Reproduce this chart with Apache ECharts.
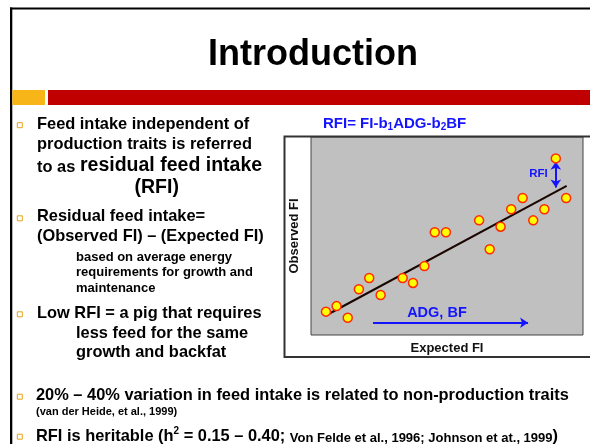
<!DOCTYPE html>
<html><head><meta charset="utf-8">
<script src="https://cdn.jsdelivr.net/npm/echarts@6/dist/echarts.min.js"></script>
<style>html,body{margin:0;padding:0;background:#fff}#c{width:590px;height:444px}</style>
</head><body><div id="c"></div>
<script>
// ---- data (arbitrary 0-100 units) ----
const expectedFI = [5.5, 9.4, 13.5, 17.6, 21.4, 25.6, 33.7, 37.5, 41.7, 45.5, 49.6, 61.8, 65.7, 69.7, 73.6, 77.8, 81.7, 85.8, 90.0, 93.8];
const observedFI = [11.8, 14.6, 8.7, 23.1, 28.8, 20.2, 28.8, 26.3, 34.8, 51.9, 51.9, 57.9, 43.3, 54.7, 63.5, 69.2, 57.9, 63.5, 89.2, 69.2];
const fitLineX = [5.8, 94.0];
const fitLineY = [10.1, 75.3];
const rfiArrowX = [90.0, 90.0];
const rfiArrowY = [87.5, 74.5];
const adgArrowX = [22.8, 79.8];
const adgArrowY = [6.2, 6.2];
const rfiLabelPos = [83.6, 81.3];
const adgLabelPos = [46.3, 11.1];
const axisNames = ['Expected FI', 'Observed FI'];

const FONT = '"Liberation Sans", Arial, Helvetica, sans-serif';
const BLUE = '#1414ff';

function txt(x, y, text, size, align, color) {
  return { type: 'text', x: x, y: y, z: 10,
    style: { text: text, fontSize: size, fontWeight: 'bold', fontFamily: FONT,
      fill: color || '#000', align: align || 'left', verticalAlign: 'middle' } };
}
function bullet(cy) {
  return { type: 'rect', z: 10, shape: { x: 17.3, y: cy - 2.5, width: 5, height: 5 },
    style: { fill: '#fff', stroke: '#e8a317', lineWidth: 1 } };
}

const graphics = [
  { type: 'rect', shape: { x: 10, y: 7.5, width: 580, height: 2 }, style: { fill: '#000' } },
  { type: 'rect', shape: { x: 10, y: 7.5, width: 2.3, height: 437 }, style: { fill: '#000' } },
  { type: 'rect', shape: { x: 12.3, y: 90, width: 32.7, height: 15 }, style: { fill: '#f7b518' } },
  { type: 'rect', shape: { x: 48, y: 90, width: 542, height: 15 }, style: { fill: '#c00000' } },
  { type: 'rect', shape: { x: 284.5, y: 136.5, width: 312, height: 220.5 }, style: { fill: 'none', stroke: '#333', lineWidth: 2 } },
  txt(313, 55.4, 'Introduction', 36, 'center'),
  bullet(125.2), bullet(218.3), bullet(314.3), bullet(396.7), bullet(436.7),
  txt(37, 124.3, 'Feed intake independent of', 16.4),
  txt(37, 144.3, 'production traits is referred', 16.4),
  txt(37, 167, 'to as', 16.4),
  txt(80, 165.9, 'residual feed intake', 19.5),
  txt(156.7, 187.2, '(RFI)', 19.5, 'center'),
  txt(37, 216.6, 'Residual feed intake=', 16.4),
  txt(37, 236, '(Observed FI) \u2013 (Expected FI)', 16.4),
  txt(76, 257.2, 'based on average energy', 13),
  txt(76, 272.8, 'requirements for growth and', 13),
  txt(76, 288.8, 'maintenance', 13),
  txt(37, 313.6, 'Low RFI = a pig that requires', 16.4),
  txt(76, 333.6, 'less feed for the same', 16.4),
  txt(76, 352.3, 'growth and backfat', 16.4),
  txt(36, 395, '20% \u2013 40% variation in feed intake is related to non-production traits', 16.4),
  txt(36, 412.1, '(van der Heide, et al., 1999)', 11),
  { type: 'text', x: 36, y: 435.3, z: 10,
    style: { text: '{a|RFI is heritable (h}{s|2}{a| = 0.15 \u2013 0.40; }{b|Von Felde et al., 1996; Johnson et at., 1999}{a|)}',
      fill: '#000', align: 'left', verticalAlign: 'middle',
      rich: {
        a: { fontSize: 16.4, fontWeight: 'bold', fontFamily: FONT, lineHeight: 19, verticalAlign: 'bottom', fill: '#000' },
        b: { fontSize: 13, fontWeight: 'bold', fontFamily: FONT, lineHeight: 15, verticalAlign: 'bottom', fill: '#000' },
        s: { fontSize: 10, fontWeight: 'bold', fontFamily: FONT, lineHeight: 12, verticalAlign: 'top', fill: '#000' }
      } } },
  { type: 'text', x: 323, y: 124, z: 10,
    style: { text: '{m|RFI= FI-b}{s|1}{m|ADG-b}{s|2}{m|BF}',
      fill: BLUE, align: 'left', verticalAlign: 'middle',
      rich: {
        m: { fontSize: 15, fontWeight: 'bold', fontFamily: FONT, lineHeight: 16, verticalAlign: 'top', fill: BLUE },
        s: { fontSize: 10, fontWeight: 'bold', fontFamily: FONT, lineHeight: 6, verticalAlign: 'bottom', fill: BLUE }
      } } }
];

const chart = echarts.init(document.getElementById('c'), null, { renderer: 'canvas' });
const nameStyle = { fontSize: 13, fontWeight: 'bold', fontFamily: FONT, color: '#111' };
chart.setOption({
  animation: false,
  backgroundColor: '#fff',
  graphic: graphics,
  grid: { left: 311, top: 137, width: 272, height: 198, show: true, backgroundColor: '#c0c0c0', borderColor: '#444', borderWidth: 1 },
  xAxis: { type: 'value', min: 0, max: 100, name: axisNames[0], nameLocation: 'middle', nameGap: 7, nameTextStyle: nameStyle,
    axisLine: { show: false }, axisTick: { show: false }, axisLabel: { show: false }, splitLine: { show: false } },
  yAxis: { type: 'value', min: 0, max: 100, name: axisNames[1], nameLocation: 'middle', nameGap: 10, nameTextStyle: nameStyle,
    axisLine: { show: false }, axisTick: { show: false }, axisLabel: { show: false }, splitLine: { show: false } },
  series: [
    { type: 'line', name: 'fit', data: fitLineX.map((x, i) => [x, fitLineY[i]]), symbol: 'none', z: 2,
      lineStyle: { color: '#1a0500', width: 2 } },
    { type: 'scatter', name: 'pigs', data: expectedFI.map((x, i) => [x, observedFI[i]]), symbol: 'circle', symbolSize: 9, z: 4,
      itemStyle: { color: '#ffff00', borderColor: '#ff2a00', borderWidth: 1.5, opacity: 1 },
      markLine: { silent: true, animation: false, z: 3,
        lineStyle: { color: BLUE, width: 2, type: 'solid' }, label: { show: false },
        symbolSize: [8, 8],
        data: [
          [ { coord: [rfiArrowX[0], rfiArrowY[0]], symbol: 'arrow' }, { coord: [rfiArrowX[1], rfiArrowY[1]], symbol: 'arrow' } ],
          [ { coord: [adgArrowX[0], adgArrowY[0]], symbol: 'none' }, { coord: [adgArrowX[1], adgArrowY[1]], symbol: 'arrow' } ]
        ] } }
  ]
});

// annotation labels placed through the chart's own coordinate conversion
const pRfi = chart.convertToPixel({ gridIndex: 0 }, rfiLabelPos);
const pAdg = chart.convertToPixel({ gridIndex: 0 }, adgLabelPos);
chart.setOption({
  graphic: graphics.concat([
    txt(pRfi[0], pRfi[1], 'RFI', 11.5, 'center', BLUE),
    txt(pAdg[0], pAdg[1], 'ADG, BF', 14.5, 'center', BLUE)
  ])
});
</script></body></html>
